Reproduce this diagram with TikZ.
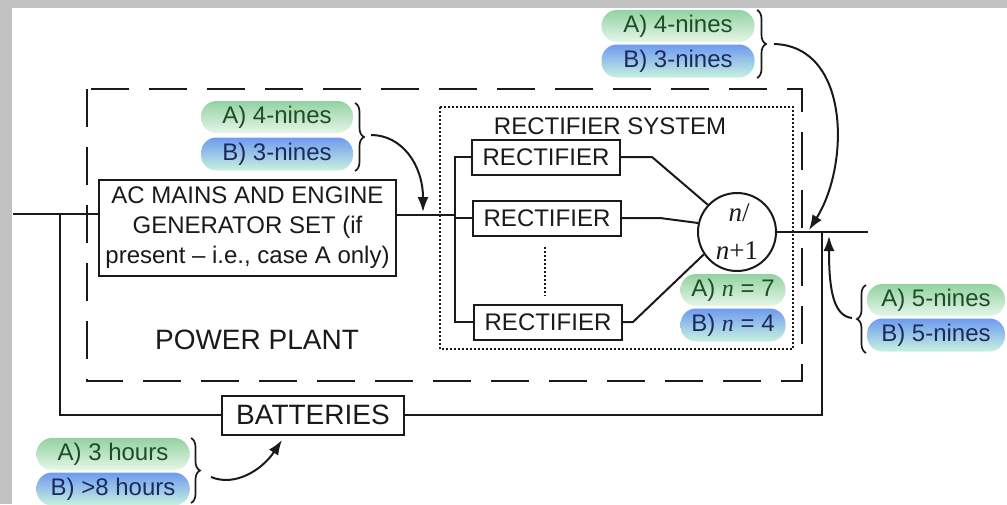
\documentclass[tikz,border=0pt]{standalone}
\usepackage{fontspec}
\setmainfont{Liberation Sans}
\newfontfamily\serifn{Liberation Serif}
\usetikzlibrary{decorations.pathreplacing,arrows.meta}
\definecolor{lineblack}{HTML}{1A1A1A}
\definecolor{framegrey}{HTML}{C2C2C2}
\definecolor{greentxt}{HTML}{1D4F26}
\definecolor{bluetxt}{HTML}{1C2B5C}
\definecolor{greenTop}{HTML}{92D2A2}
\definecolor{greenBot}{HTML}{E6F6E8}
\definecolor{blueTop}{HTML}{6E9AF0}
\definecolor{blueBot}{HTML}{C8F2DE}
\tikzset{
  wire/.style={draw=lineblack, line width=2pt},
  txt/.style={font=\fontsize{24}{30}\selectfont, text=lineblack, inner sep=0pt},
  bigtxt/.style={font=\fontsize{28}{32}\selectfont, text=lineblack, inner sep=0pt},
  blockbox/.style={draw=lineblack, line width=2pt, fill=white, txt, inner sep=1pt},
  pillA/.style={rounded corners=15.5pt, top color=greenTop, bottom color=greenBot, text=greentxt,
    minimum height=32pt, inner sep=0pt, font=\fontsize{24}{28}\selectfont},
  pillB/.style={rounded corners=15.5pt, top color=blueTop, bottom color=blueBot, text=bluetxt,
    minimum height=33pt, inner sep=0pt, font=\fontsize{24}{28}\selectfont},
  arr/.style={draw=lineblack, line width=2pt, -{Latex[length=15pt,width=11pt]}},
  bracedec/.style={draw=lineblack, decorate, decoration={brace, amplitude=9pt}, line width=1.7pt},
}
\begin{document}
\begin{tikzpicture}[x=1pt, y=-1pt]
\useasboundingbox (0,0) rectangle (1007,504);
% frame
\fill[framegrey] (0,0) rectangle (1007,8);
\fill[framegrey] (0,0) rectangle (12,504);

% enclosures
\draw[draw=lineblack, line width=1.9pt, dash pattern=on 38pt off 20pt] (87,89) rectangle (802,381);
\draw[draw=lineblack, line width=2pt, dash pattern=on 2pt off 2pt] (440,107) rectangle (793,349);
\node[txt] (rstitle) at (610,126) {RECTIFIER SYSTEM};
\node[bigtxt] (pptitle) at (257,340) {POWER PLANT};

% blocks
\node[blockbox, minimum width=297pt, minimum height=96pt, align=center] (ac) at (247.5,228)
  {AC MAINS AND ENGINE\\GENERATOR SET (if\\present -- i.e., case A only)};
\node[blockbox, minimum width=148pt, minimum height=35pt] (r1) at (546,157) {RECTIFIER};
\node[blockbox, minimum width=148pt, minimum height=35pt] (r2) at (547,218) {RECTIFIER};
\node[blockbox, minimum width=148pt, minimum height=35pt] (r3) at (548,322) {RECTIFIER};
\node[blockbox, bigtxt, inner sep=1pt, minimum width=182pt, minimum height=39pt] (bat) at (313,415) {BATTERIES};
\node[draw=lineblack, line width=2pt, circle, minimum size=78pt, inner sep=0pt] (nn) at (737,232) {};
\node[inner sep=0pt, font=\fontsize{27}{30}\selectfont\serifn, text=lineblack] (nn1) at (739,213) {\textit{n}/};
\node[inner sep=0pt, font=\fontsize{27}{30}\selectfont\serifn, text=lineblack] (nn2) at (737,251) {\textit{n}+1};

% coordinates
\coordinate (inL) at (13,214);
\coordinate (jL) at (60,214);
\coordinate (busM) at (455,215);
\coordinate (b1) at (455,157);
\coordinate (b3) at (455,322);
\coordinate (k1) at (652,157);
\coordinate (k2) at (660,218);
\coordinate (k3) at (633,322);
\coordinate (outR) at (868,232);
\coordinate (jR) at (822,232);

% wires
\draw[wire] (inL) -- (ac.west |- inL);
\draw[wire] (jL) |- (bat.west);
\draw[wire] (bat.east) -| (jR);
\draw[wire] (ac.east |- busM) -- (busM);
\draw[wire] (r1.west) -- (b1) -- (b3) -- (r3.west);
\draw[wire] (r2.west) -- (r2.west -| b1);
\draw[wire] (r1.east) -- (k1) -- (nn.137);
\draw[wire] (r2.east) -- (k2) -- (nn.167);
\draw[wire] (r3.east) -- (k3) -- (nn.214);
\draw[wire] (nn.east) -- (outR);
\draw[draw=lineblack, line width=2pt, dash pattern=on 2pt off 2pt] (545,247) -- (545,296);

% labels: power plant input
\node[pillA, minimum width=152pt] (pa1) at (277,117) {A) 4-nines};
\node[pillB, minimum width=152pt] (pb1) at (277,154) {B) 3-nines};
\draw[bracedec] (355,103) -- (355,171);
\coordinate (s1) at (371,135);
\coordinate (e1) at (423,212);
\draw[arr] (s1) .. controls (402,135) and (423,165) .. (e1);

% labels: top
\node[pillA, minimum width=153pt] (pa2) at (678,26) {A) 4-nines};
\node[pillB, minimum width=153pt] (pb2) at (678,61) {B) 3-nines};
\draw[bracedec] (757,10) -- (757,78);
\coordinate (s2) at (774,44);
\coordinate (e2) at (809,230);
\draw[arr] (s2) .. controls (850,46) and (850,165) .. (e2);

% labels: output
\node[pillA, minimum width=138pt] (pa3) at (936,300) {A) 5-nines};
\node[pillB, minimum width=138pt] (pb3) at (936,335) {B) 5-nines};
\draw[bracedec] (866,353) -- (866,285);
\coordinate (s3) at (852,318);
\coordinate (e3) at (829,236);
\draw[arr] (s3) .. controls (832,316) and (829,285) .. (e3);

% labels: n
\node[pillA, minimum width=105pt] (pa4) at (733,290) {A) {\serifn\itshape n} = 7};
\node[pillB, minimum width=105pt] (pb4) at (733,325) {B) {\serifn\itshape n} = 4};

% labels: batteries
\node[pillA, minimum width=153pt] (pa5) at (113,454) {A) 3 hours};
\node[pillB, minimum width=153pt] (pb5) at (113,489) {B) >8 hours};
\draw[bracedec] (191,438) -- (191,503);
\coordinate (s5) at (211,477);
\coordinate (e5) at (282,440);
\draw[arr] (s5) .. controls (235,487) and (262,470) .. (e5);
\end{tikzpicture}
\end{document}
